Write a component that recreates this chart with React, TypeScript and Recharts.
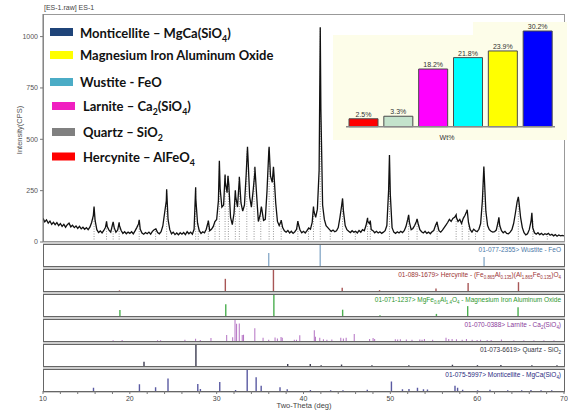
import {
  ComposedChart,
  Line,
  XAxis,
  YAxis,
  ReferenceLine,
  BarChart,
  Bar,
  Cell,
  LabelList,
} from "recharts";

// XRD scan ES-1: counts per 0.2 deg step, starting at 10 deg
const scanStart = 10;
const scanStep = 0.2;
const scanCps = [
  115, 98, 108, 92, 102, 86, 96, 84, 94, 80,
  90, 76, 86, 72, 84, 92, 74, 82, 70, 78,
  66, 76, 64, 72, 62, 70, 60, 72, 95, 130,
  105, 60, 46, 54, 44, 56, 72, 75, 58, 48,
  85, 70, 48, 58, 80, 56, 42, 50, 40, 48,
  42, 50, 40, 54, 70, 88, 62, 44, 38, 46,
  40, 48, 38, 52, 60, 64, 46, 40, 50, 78,
  140, 200, 110, 60, 40, 48, 36, 44, 35, 45,
  38, 46, 36, 50, 40, 48, 38, 62, 210, 90,
  55, 42, 50, 45, 62, 95, 55, 62, 75, 100,
  110, 200, 260, 170, 180, 290, 240, 280, 120, 85,
  140, 220, 170, 300, 190, 150, 180, 330, 420, 220,
  170, 250, 340, 230, 100, 130, 160, 105, 110, 250,
  440, 320, 290, 330, 190, 100, 80, 100, 70, 55,
  48, 56, 44, 52, 42, 50, 62, 90, 58, 45,
  52, 44, 55, 68, 62, 95, 150, 120, 160, 350,
  650, 180, 110, 80, 70, 60, 52, 58, 50, 55,
  70, 120, 180, 150, 80, 60, 52, 46, 55, 48,
  52, 44, 56, 48, 60, 55, 80, 100, 90, 60,
  55, 45, 52, 44, 50, 42, 48, 55, 80, 250,
  230, 70, 48, 42, 50, 44, 52, 46, 55, 75,
  110, 95, 60, 66, 80, 100, 90, 60, 50, 44,
  52, 42, 48, 40, 50, 56, 80, 90, 55, 48,
  58, 70, 82, 95, 110, 100, 115, 120, 120, 100,
  110, 90, 115, 130, 150, 95, 60, 48, 62, 55,
  50, 62, 90, 200, 340, 150, 80, 60, 52, 48,
  50, 58, 95, 80, 55, 45, 52, 42, 40, 48,
  60, 90, 140, 195, 200, 120, 70, 45, 35, 40,
  60, 100, 70, 45, 38, 45, 36, 42, 34, 40,
  36, 42, 33, 38, 30, 36, 28, 34, 30, 32,
  30,
];

// peak maxima that fall between scan steps [2theta, cps]
const peakTops = [
  [15.88, 172], [17.32, 100], [18.08, 98], [18.77, 96], [21.08, 108],
  [24.24, 257], [27.58, 267], [29.04, 104], [30.31, 395], [30.97, 328],
  [31.3, 322], [32.15, 252], [32.61, 317], [33.55, 463], [34.4, 366],
  [35.15, 172], [36.04, 463], [36.54, 366], [37.43, 106], [39.35, 102],
  [41.15, 172], [41.93, 1045], [44.5, 212], [47.38, 118], [47.69, 104],
  [49.9, 424], [52.11, 132], [53.08, 112], [55.39, 98], [57.58, 132],
  [58.85, 157], [60.77, 368], [62.5, 120], [64.74, 220], [66.3, 142],
];

// dotted peak markers [2theta, height]
const peakMarks = [
  [15.88, 170], [17.32, 100], [18.08, 95], [18.77, 95], [21.08, 105],
  [22.97, 65], [24.24, 255], [27.58, 265], [27.88, 95], [29.04, 100],
  [29.81, 110], [30.31, 390], [30.97, 325], [31.35, 320], [32.15, 250],
  [32.61, 315], [33.47, 440], [34.31, 360], [35.08, 170], [36.04, 460],
  [36.54, 360], [37.43, 105], [39.35, 100], [40.58, 70], [41.15, 170],
  [41.93, 1040], [43.08, 60], [44.5, 210], [45.97, 55], [47.38, 115],
  [47.69, 100], [49.9, 420], [52.11, 130], [53.08, 110], [55.39, 95],
  [57.58, 130], [58.28, 110], [59.04, 95], [59.81, 55], [60.77, 365],
  [62.5, 118], [64.74, 218], [66.42, 110], [68.08, 40],
];

// reference patterns [2theta, relative intensity]
const wustiteSticks = [[36.0, 62], [41.93, 100], [60.8, 43]];
const hercyniteSticks = [
  [18.85, 3], [31.04, 58], [36.58, 100], [44.5, 16], [48.8, 4],
  [55.3, 12], [59.0, 38], [64.8, 42],
];
const mgfeSticks = [
  [18.85, 29], [31.04, 56], [36.58, 100], [44.5, 30], [48.8, 3],
  [55.3, 10], [58.9, 47], [64.7, 42],
];
const larniteSticks = [
  [18.08, 4], [19.12, 5], [23.2, 4], [23.55, 4], [26.35, 6], [27.58, 11],
  [28.12, 5], [29.35, 14], [31.16, 28], [31.85, 18], [32.12, 100],
  [32.3, 82], [32.61, 83], [32.95, 28], [33.1, 30], [34.4, 61], [35.35, 16],
  [36.0, 6], [36.73, 17], [37.0, 12], [37.42, 19], [37.56, 16], [38.95, 6],
  [39.2, 6], [39.58, 27], [41.25, 51], [41.38, 20], [41.88, 15], [42.3, 8],
  [42.7, 6], [43.27, 7], [44.3, 16], [44.6, 12], [44.92, 15], [45.85, 33],
  [47.62, 10], [48.02, 14], [48.2, 10], [50.58, 8], [50.85, 7], [51.16, 8],
  [51.85, 7], [52.5, 6], [53.4, 7], [53.66, 6], [53.93, 10], [54.88, 6],
  [56.42, 15], [56.73, 9], [57.12, 10], [57.62, 8], [58.28, 6], [58.77, 10],
  [59.43, 6], [60.0, 5], [60.4, 6], [61.16, 5], [61.62, 5], [62.8, 7],
  [64.23, 4], [65.38, 4], [66.54, 4], [67.69, 4], [68.85, 4],
];
const quartzSticks = [
  [21.6, 20], [27.58, 100], [38.15, 10], [40.75, 10], [42.0, 4],
  [44.35, 7], [47.85, 4], [52.1, 4], [57.12, 6], [60.0, 4], [62.7, 5],
  [66.27, 4], [69.16, 3],
];
const monticelliteSticks = [
  [15.77, 15], [21.06, 32], [22.92, 18], [24.35, 60], [27.78, 33],
  [28.08, 10], [30.31, 43], [32.13, 5], [33.47, 100], [34.5, 66],
  [35.08, 25], [37.25, 18], [38.08, 8], [40.75, 5], [43.08, 4], [44.5, 4],
  [47.3, 6], [50.08, 45], [51.35, 8], [52.1, 10], [53.08, 15], [53.77, 8],
  [54.23, 7], [57.4, 25], [57.7, 15], [58.28, 6], [60.0, 4], [61.43, 6],
  [63.47, 4], [65.08, 4], [66.15, 5], [67.31, 4], [68.54, 4],
];

const cardLabels = [
  "01-077-2355> Wustite - FeO",
  "01-089-1679> Hercynite - (Fe_{0.865}Al_{0.135})(Al_{1.865}Fe_{0.135})O_4",
  "01-071-1237> MgFe_{0.6}Al_{1.4}O_4 - Magnesium Iron Aluminum Oxide",
  "01-070-0388> Larnite - Ca_2(SiO_4)",
  "01-073-6619> Quartz - SiO_2",
  "01-075-5997> Monticellite - MgCa(SiO_4)",
];

// quantification inset
const phaseNames = ["Hercynite", "Quartz", "Larnite", "Wustite", "Mg Fe Al Oxide", "Monticellite"];
const wtPct = [2.5, 3.3, 18.2, 21.8, 23.9, 30.2];

const legendLabels = [
  "Monticellite – MgCa(SiO_4)",
  "Magnesium Iron Aluminum Oxide",
  "Wustite - FeO",
  "Larnite – Ca_2(SiO_4)",
  "Quartz – SiO_2",
  "Hercynite – AlFeO_4",
];

const xTicks = [10, 12, 14, 16, 18, 20, 22, 24, 26, 28, 30, 32, 34, 36, 38, 40, 42, 44, 46, 48, 50, 52, 54, 56, 58, 60, 62, 64, 66, 68, 70];

const patternData = [
  ...scanCps.map((cps, i) => ({ deg: +(scanStart + i * scanStep).toFixed(2), cps })),
  ...peakTops.map(([deg, cps]) => ({ deg, cps })),
].sort((a, b) => a.deg - b.deg);

const barData = phaseNames.map((name, i) => ({ name, pct: wtPct[i] }));

const FONT = "'Liberation Sans', Arial, sans-serif";
const LEGEND_FONT = "Lato, 'Open Sans', sans-serif";
const barColors = ["#ff0000", "#c4e3cc", "#ff00ff", "#00ffff", "#ffff00", "#0000ff"];
const legendColors = ["#1f4479", "#ffff00", "#4bacc6", "#f01fc0", "#808080", "#ff0000"];
const legendRows = [
  { box: 28, base: 38, bx: 50, tx: 80 },
  { box: 51, base: 60, bx: 50, tx: 80 },
  { box: 78, base: 87, bx: 50, tx: 80 },
  { box: 102, base: 110.5, bx: 52, tx: 83 },
  { box: 128, base: 137, bx: 52, tx: 83 },
  { box: 152.5, base: 161.5, bx: 52, tx: 83 },
];
const panelColors = [
  { text: "#4a78a8", stick: "#8eaecb" },
  { text: "#9b3434", stick: "#a85656" },
  { text: "#2e962e", stick: "#4caf50" },
  { text: "#8a3a9a", stick: "#b574c4" },
  { text: "#333340", stick: "#3c3c50" },
  { text: "#2a2a80", stick: "#5a5aa2" },
];
const panelSticks = [wustiteSticks, hercyniteSticks, mgfeSticks, larniteSticks, quartzSticks, monticelliteSticks];

const PL = 43; // plot left
const PR = 564; // plot right
const panelTop = (i: number) => 244 + i * 25;
const PANEL_H = 23;

function richText(text: string, size: number) {
  const parts = text.split(/_\{([^}]*)\}|_(.)/);
  const out: any[] = [];
  let low = false;
  const shift = size * 0.32;
  parts.forEach((p, i) => {
    if (p === undefined || p === "") return;
    const isSub = i % 3 !== 0;
    const dy = isSub && !low ? shift : !isSub && low ? -shift : 0;
    low = isSub;
    out.push(
      <tspan key={i} dy={dy} fontSize={isSub ? size * 0.68 : size}>
        {p}
      </tspan>
    );
  });
  return out;
}

function StickPanel({ index, withAxis }: { index: number; withAxis: boolean }) {
  const data = panelSticks[index].map(([deg, rel]) => ({ deg, rel }));
  const c = panelColors[index];
  return (
    <div style={{ position: "absolute", left: 0, top: panelTop(index) }}>
      <ComposedChart
        width={568}
        height={PANEL_H + (withAxis ? 16 : 0)}
        data={data}
        margin={{ top: 1, right: 568 - PR, bottom: 1, left: PL }}
      >
        <XAxis
          type="number"
          dataKey="deg"
          domain={[10, 70]}
          ticks={xTicks}
          hide={!withAxis}
          height={16}
          axisLine={false}
          tickSize={3}
          tickLine={{ stroke: "#777" }}
          tick={{ fontSize: 7, fill: "#444", fontFamily: FONT }}
          tickFormatter={(v: number) => (v % 10 === 0 ? String(v) : "")}
          interval={0}
          allowDataOverflow
        />
        <YAxis type="number" domain={[0, 100]} hide />
        <Bar dataKey="rel" fill={c.stick} barSize={1.4} isAnimationActive={false} />
      </ComposedChart>
    </div>
  );
}

export default function App() {
  return (
    <div
      style={{
        position: "absolute",
        left: 0,
        top: 0,
        width: 568,
        height: 414,
        background: "#fff",
        overflow: "hidden",
      }}
    >
      {/* gray strip behind the reference-card panels */}
      <div style={{ position: "absolute", left: PL, top: 242, width: PR - PL + 1, height: 151, background: "#cdcdcd" }} />
      {[0, 1, 2, 3, 4, 5].map((i) => (
        <div
          key={i}
          style={{
            position: "absolute",
            left: PL,
            top: panelTop(i),
            width: PR - PL + 1,
            height: PANEL_H,
            boxSizing: "border-box",
            border: "1.5px solid #666",
            background: "#fff",
          }}
        />
      ))}

      {/* main frame */}
      <div
        style={{
          position: "absolute",
          left: PL,
          top: 14,
          width: PR - PL + 1,
          height: 228,
          boxSizing: "border-box",
          border: "1px solid #999",
        }}
      />

      {/* main scan */}
      <div style={{ position: "absolute", left: 0, top: 0 }}>
        <ComposedChart
          width={568}
          height={250}
          data={patternData}
          margin={{ top: 14, right: 568 - PR, bottom: 8, left: 0 }}
        >
          <XAxis type="number" dataKey="deg" domain={[10, 70]} hide allowDataOverflow />
          <YAxis
            type="number"
            domain={[0, 1110]}
            ticks={[0, 250, 500, 750, 1000]}
            interval={0}
            width={PL}
            tickSize={3}
            axisLine={{ stroke: "#777" }}
            tickLine={{ stroke: "#777" }}
            tick={{ fontSize: 7, fill: "#555", fontFamily: FONT }}
          />
          {peakMarks.map(([d, h], i) => (
            <ReferenceLine
              key={i}
              segment={[
                { x: d, y: 0 },
                { x: d, y: h },
              ]}
              stroke="#9a9a9a"
              strokeDasharray="1 1.5"
            />
          ))}
          <Line
            type="linear"
            dataKey="cps"
            stroke="#111"
            strokeWidth={1.3}
            dot={false}
            isAnimationActive={false}
          />
        </ComposedChart>
      </div>

      {/* reference card sticks */}
      {[0, 1, 2, 3, 4, 5].map((i) => (
        <StickPanel key={i} index={i} withAxis={i === 5} />
      ))}

      {/* Wt% inset */}
      <div style={{ position: "absolute", left: 333, top: 35, width: 234, height: 105, background: "#fdfde9" }} />
      <div style={{ position: "absolute", left: 473, top: 22, width: 94, height: 14, background: "#fdfde9" }} />
      <div style={{ position: "absolute", left: 333, top: 10 }}>
        <BarChart
          width={235}
          height={125}
          data={barData}
          margin={{ top: 21, right: 13, bottom: 8.3, left: 13 }}
          barSize={29}
        >
          <XAxis dataKey="name" hide />
          <YAxis type="number" domain={[0, 30.2]} hide />
          <ReferenceLine y={0} stroke="#8a8a8a" strokeWidth={1.5} />
          <Bar dataKey="pct" stroke="#4a4a4a" strokeWidth={1} isAnimationActive={false}>
            {barData.map((d, i) => (
              <Cell key={d.name} fill={barColors[i]} />
            ))}
            <LabelList
              dataKey="pct"
              position="top"
              offset={2}
              formatter={(v: any) => `${v}%`}
              style={{ fontSize: 7, fill: "#333", fontFamily: FONT }}
            />
          </Bar>
        </BarChart>
      </div>

      {/* texts */}
      <svg width={568} height={414} style={{ position: "absolute", left: 0, top: 0, pointerEvents: "none" }}>
        <text x={44} y={10} fontSize={7} fill="#444" fontFamily={FONT}>
          [ES-1.raw] ES-1
        </text>
        <text
          x={22}
          y={130}
          fontSize={7.5}
          fill="#555"
          fontFamily={FONT}
          textAnchor="middle"
          transform="rotate(-90 22 130)"
        >
          Intensity(CPS)
        </text>
        <text x={304} y={408} fontSize={7.5} fill="#444" fontFamily={FONT} textAnchor="middle">
          Two-Theta (deg)
        </text>
        <text x={447} y={139.5} fontSize={7} fill="#333" fontFamily={FONT} textAnchor="middle">
          Wt%
        </text>
        {cardLabels.map((t, i) => (
          <text
            key={i}
            x={561}
            y={panelTop(i) + 8}
            fontSize={6.5}
            fill={panelColors[i].text}
            fontFamily={FONT}
            textAnchor="end"
          >
            {richText(t, 6.5)}
          </text>
        ))}
        {legendLabels.map((t, i) => (
          <g key={i}>
            <rect x={legendRows[i].bx} y={legendRows[i].box} width={23} height={8} fill={legendColors[i]} />
            <text
              x={legendRows[i].tx}
              y={legendRows[i].base}
              fontSize={13}
              fontWeight={700}
              fill="#111"
              fontFamily={LEGEND_FONT}
            >
              {richText(t, 13)}
            </text>
          </g>
        ))}
      </svg>
    </div>
  );
}
